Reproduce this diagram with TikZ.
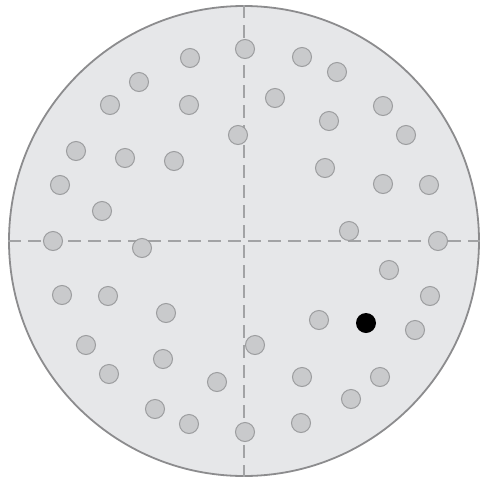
\documentclass[tikz,border=0pt]{standalone}
\usepackage{tikz}
\usetikzlibrary{positioning}
\definecolor{platefill}{HTML}{E6E7E9}
\definecolor{plateline}{HTML}{8C8C8E}
\definecolor{dotfill}{HTML}{C9CACC}
\definecolor{dotline}{HTML}{9C9D9F}
\definecolor{axisline}{HTML}{A2A3A5}
\begin{document}
\begin{tikzpicture}[
  x=1pt,y=-1pt,
  plate/.style={circle,draw=plateline,fill=platefill,line width=1.8pt,minimum size=470pt,inner sep=0pt},
  axis/.style={draw=axisline,line width=1.1pt,dash pattern=on 13pt off 7pt},
  dot/.style={circle,draw=dotline,fill=dotfill,line width=1pt,minimum size=19pt,inner sep=0pt},
  target/.style={circle,fill=black,minimum size=20pt,inner sep=0pt}
]
  \useasboundingbox (0,0) rectangle (480,483);
  \node[plate] (plate) at (244,241) {};
  \draw[axis] (plate.west) -- (plate.east);
  \draw[axis] (plate.north) -- (plate.south);
  % grey dots
  \foreach \px/\py [count=\i] in {
    190/58, 139/82, 110/105, 189/105, 76/151, 125/158, 174/161,
    60/185, 102/211, 53/241, 142/248, 245/49, 238/135,
    302/57, 337/72, 275/98, 383/106, 329/121, 406/135, 325/168,
    383/184, 429/185, 349/231, 438/241,
    62/295, 108/296, 166/313, 86/345, 163/359, 109/374, 217/382,
    155/409, 189/424, 245/432,
    389/270, 430/296, 319/320, 415/330, 255/345, 302/377, 380/377,
    351/399, 301/423}
    \node[dot] (d\i) at (\px,\py) {};
  % the black one
  \node[target] (hit) at (366,323) {};
\end{tikzpicture}
\end{document}
